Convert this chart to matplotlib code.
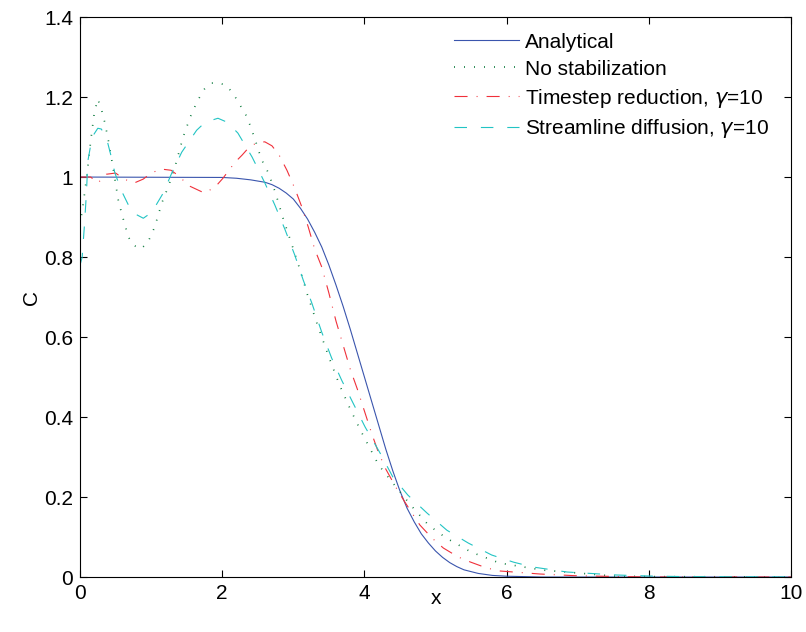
import numpy as np
import matplotlib
matplotlib.use('Agg')
import matplotlib.pyplot as plt

plt.rcParams['font.family'] = ['Liberation Sans', 'DejaVu Sans']
plt.rcParams['lines.scale_dashes'] = False

# Analytical
xa = [0, 2.0, 2.2, 2.4, 2.6, 2.7, 2.8, 2.9, 3.0, 3.1, 3.2, 3.3, 3.4, 3.5,
      3.6, 3.7, 3.8, 3.9, 4.0, 4.1, 4.2, 4.3, 4.4, 4.5, 4.6, 4.7, 4.8, 4.9,
      5.0, 5.1, 5.2, 5.3, 5.4, 5.6, 5.8, 6.0, 6.5, 10]
ya = [1, 0.999, 0.997, 0.993, 0.987, 0.981, 0.972, 0.96, 0.945, 0.922, 0.895,
      0.862, 0.825, 0.78, 0.73, 0.677, 0.62, 0.56, 0.5, 0.44, 0.38, 0.32,
      0.265, 0.215, 0.172, 0.138, 0.108, 0.085, 0.065, 0.049, 0.036, 0.026,
      0.018, 0.009, 0.004, 0.002, 0, 0]

# No stabilization
xg = [0, 0.05, 0.1, 0.15, 0.2, 0.25, 0.3, 0.35, 0.4, 0.47, 0.54, 0.6, 0.68,
      0.75, 0.85, 0.95, 1.05, 1.15, 1.25, 1.35, 1.45, 1.55, 1.65, 1.75, 1.85,
      1.95, 2.05, 2.15, 2.25, 2.35, 2.45, 2.55, 2.65, 2.75, 2.85, 3.0, 3.1,
      3.2, 3.35, 3.5, 3.65, 3.8, 3.95, 4.2, 4.4, 4.65, 4.9, 5.15, 5.5, 5.9,
      6.5, 7.0, 7.5, 8.0, 10]
yg = [0.88, 0.94, 1.01, 1.09, 1.16, 1.195, 1.17, 1.135, 1.09, 1.017, 0.94,
      0.9, 0.85, 0.83, 0.82, 0.835, 0.875, 0.935, 0.98, 1.035, 1.1, 1.15,
      1.19, 1.22, 1.235, 1.235, 1.23, 1.21, 1.18, 1.15, 1.1, 1.045, 1.01,
      0.96, 0.9, 0.82, 0.765, 0.705, 0.625, 0.55, 0.48, 0.42, 0.365, 0.28,
      0.235, 0.18, 0.13, 0.0975, 0.0625, 0.035, 0.0175, 0.01, 0.0025, 0.001, 0]

# Timestep reduction
xr = [0, 0.15, 0.25, 0.37, 0.5, 0.62, 0.76, 0.89, 1.0, 1.14, 1.28, 1.41, 1.51,
      1.63, 1.75, 1.9, 2.01, 2.18, 2.28, 2.38, 2.5, 2.6, 2.7, 2.8, 2.91, 3.02,
      3.12, 3.21, 3.3, 3.4, 3.5, 3.6, 3.7, 3.8, 3.9, 4.0, 4.1, 4.2, 4.3, 4.45,
      4.57, 4.78, 4.95, 5.11, 5.32, 5.49, 5.72, 5.91, 6.47, 7.0, 8.0, 10]
yr = [1.0, 1.0, 0.985, 1.007, 1.01, 0.995, 0.985, 0.995, 1.01, 1.02, 1.017,
      1.0, 0.98, 0.97, 0.96, 0.975, 0.997, 1.037, 1.055, 1.075, 1.087, 1.088,
      1.078, 1.055, 1.017, 0.972, 0.925, 0.875, 0.82, 0.775, 0.71, 0.64, 0.58,
      0.52, 0.47, 0.415, 0.36, 0.31, 0.27, 0.222, 0.187, 0.13, 0.0975, 0.0725,
      0.05, 0.0375, 0.0225, 0.015, 0.0075, 0.003, 0, 0]

# Streamline diffusion
xc = [0, 0.03, 0.06, 0.09, 0.11, 0.17, 0.25, 0.3, 0.38, 0.44, 0.49, 0.59,
      0.73, 0.89, 1.01, 1.17, 1.29, 1.43, 1.64, 1.76, 1.94, 2.07, 2.22, 2.32,
      2.42, 2.49, 2.6, 2.74, 2.88, 3.02, 3.14, 3.26, 3.4, 3.54, 3.68, 3.84,
      4.01, 4.22, 4.4, 4.61, 4.88, 5.16, 5.46, 5.79, 6.1, 6.37, 6.85, 7.55,
      8.0, 8.5, 10]
yc = [0.78, 0.8, 0.875, 0.96, 1.04, 1.1, 1.122, 1.12, 1.092, 1.05, 1.01,
      0.963, 0.912, 0.897, 0.912, 0.96, 1.01, 1.062, 1.117, 1.137, 1.147,
      1.137, 1.11, 1.08, 1.05, 1.025, 0.985, 0.93, 0.87, 0.805, 0.742, 0.685,
      0.612, 0.547, 0.492, 0.435, 0.375, 0.31, 0.25, 0.205, 0.16, 0.117,
      0.085, 0.055, 0.037, 0.025, 0.0125, 0.005, 0.0025, 0.001, 0]

fig = plt.figure(figsize=(8.06, 6.32), dpi=100)
ax = fig.add_axes([0.0993, 0.087, 0.8821, 0.886])

lw = 0.8
ax.plot(xa, ya, color='#3a55ad', lw=lw, label='Analytical')
ax.plot(xg, yg, color='#0b7a3c', lw=1.2, linestyle=(0, (0.7, 6.5)),
        label='No stabilization')
ax.plot(xr, yr, color='#f0303a', lw=lw, linestyle=(0, (9.4, 6.5, 0.7, 6.5)),
        label=r'Timestep reduction, $\gamma$=10')
ax.plot(xc, yc, color='#22c4c4', lw=lw, linestyle=(0, (9, 10)),
        label=r'Streamline diffusion, $\gamma$=10')

ax.set_xlim(0, 10)
ax.set_ylim(0, 1.4)
ax.set_xticks(np.arange(0, 11, 2))
ax.set_yticks(np.arange(0, 1.41, 0.2))
ax.set_yticklabels(['0', '0.2', '0.4', '0.6', '0.8', '1', '1.2', '1.4'])
ax.tick_params(direction='in', top=True, right=True, length=5, width=0.8,
               labelsize=15, pad=5)
for s in ax.spines.values():
    s.set_linewidth(0.8)
ax.set_xlabel('x', fontsize=15, labelpad=-10)
ax.set_ylabel('C', fontsize=15, labelpad=2)

ax.legend(loc='upper left', bbox_to_anchor=(0.526, 0.972), frameon=False,
          fontsize=15, handlelength=3.1, handletextpad=0.3, labelspacing=0.38,
          borderpad=0, borderaxespad=0)

fig.savefig('out.png', dpi=100)
